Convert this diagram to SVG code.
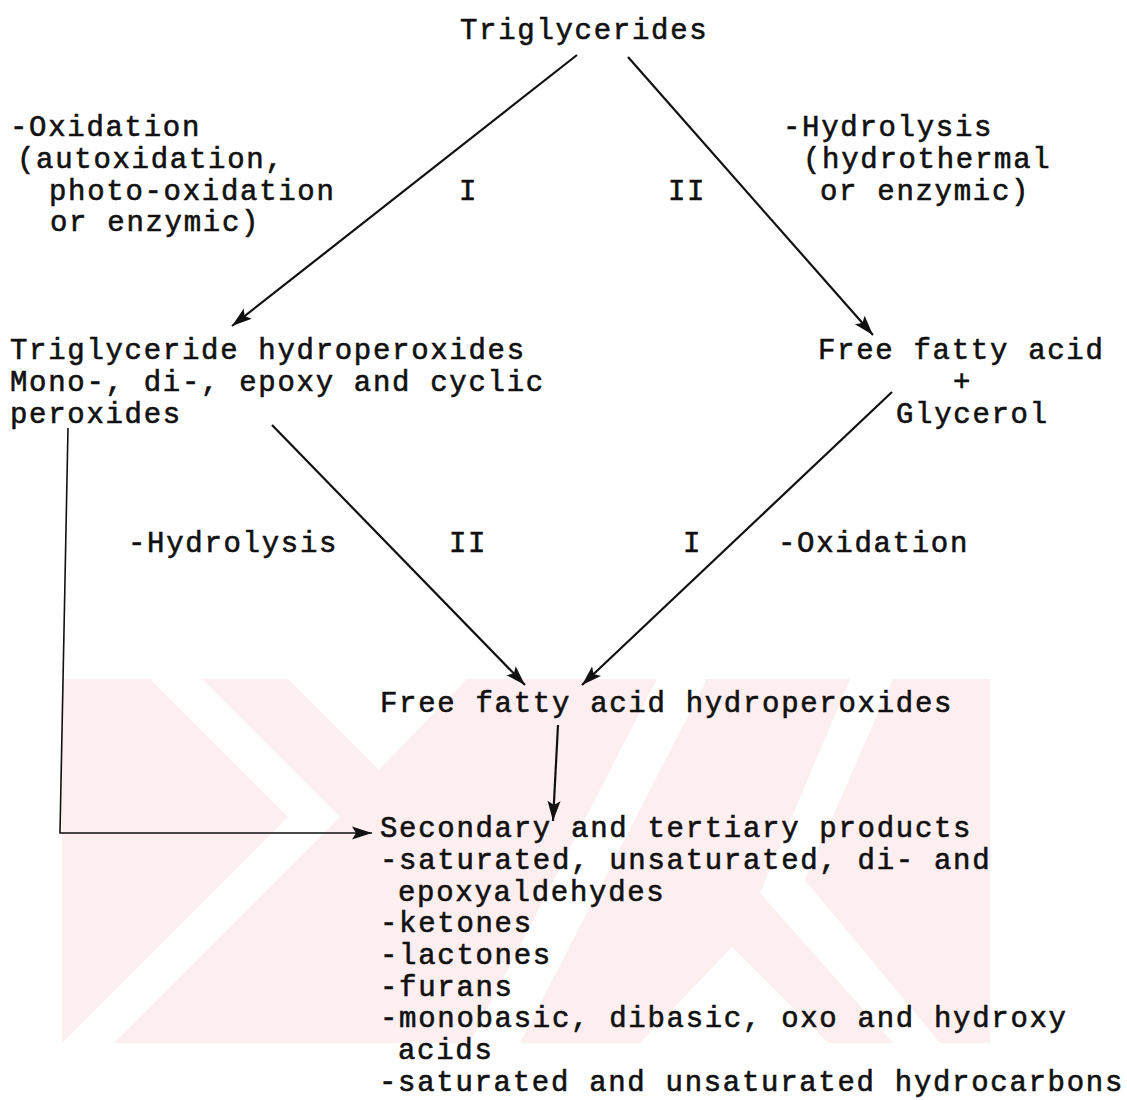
<svg xmlns="http://www.w3.org/2000/svg" width="1127" height="1100" viewBox="0 0 1127 1100">
<style>
  text { font-family: "Liberation Mono", "DejaVu Sans Mono", monospace; font-size: 29px; letter-spacing: 1.7px; fill: #111; stroke: #111; stroke-width: 0.6; white-space: pre; }
  .ln { stroke: #111; stroke-width: 2.2; fill: none; }
  .thin { stroke: #111; stroke-width: 1.6; fill: none; }
  .wm { fill: #fdeef0; }
  .wh { fill: #ffffff; }
</style>
<defs>
  <marker id="ah" markerUnits="userSpaceOnUse" markerWidth="22" markerHeight="16" refX="20" refY="8" orient="auto">
    <path d="M0,1.5 L20,8 L0,14.5 L4,8 Z" fill="#111"/>
  </marker>
</defs>
<rect width="1127" height="1100" fill="#fff"/>
<g id="watermark">
  <polygon class="wm" points="62,679 990,679 990,1043 62,1043"/>
  <polygon class="wh" points="150,679 202,679 340,817 114,1043 62,1043 288,817"/>
  <polygon class="wh" points="288,679 467,679 379,770"/>
  <polygon class="wh" points="657,679 707,679 520,1043 470,1043"/>
  <polygon class="wh" points="850,679 893,679 805,880 940,1043 893,1043 760,893"/>
  <polygon class="wh" points="640,1043 828,1043 732,947"/>
</g>
<g id="connectors">
  <line class="ln" x1="577" y1="55" x2="232" y2="326" marker-end="url(#ah)"/>
  <line class="ln" x1="628" y1="57" x2="873" y2="335" marker-end="url(#ah)"/>
  <line class="ln" x1="272" y1="425" x2="525" y2="685" marker-end="url(#ah)"/>
  <line class="ln" x1="892" y1="392" x2="582" y2="685" marker-end="url(#ah)"/>
  <line class="ln" x1="558" y1="725" x2="553" y2="821" marker-end="url(#ah)"/>
  <polyline class="thin" points="68,428 60,833 372,833" marker-end="url(#ah)"/>
</g>
<g id="n-triglycerides"><text x="460" y="39">Triglycerides</text></g>
<g id="l-oxidation1">
  <text x="10" y="136">-Oxidation</text>
  <text x="17" y="168">(autoxidation,</text>
  <text x="49" y="200">photo-oxidation</text>
  <text x="50" y="231">or enzymic)</text>
</g>
<g id="l-hydrolysis1">
  <text x="783" y="136">-Hydrolysis</text>
  <text x="803" y="168">(hydrothermal</text>
  <text x="820" y="200">or enzymic)</text>
</g>
<g id="l-I-1"><text x="459" y="200">I</text></g>
<g id="l-II-1"><text x="668" y="200">II</text></g>
<g id="n-tg-hydroperoxides">
  <text x="10" y="359">Triglyceride hydroperoxides</text>
  <text x="10" y="391">Mono-, di-, epoxy and cyclic</text>
  <text x="10" y="423">peroxides</text>
</g>
<g id="n-ffa-glycerol">
  <text x="818" y="359">Free fatty acid</text>
  <text x="953" y="391">+</text>
  <text x="896" y="423">Glycerol</text>
</g>
<g id="l-hydrolysis2"><text x="128" y="552">-Hydrolysis</text></g>
<g id="l-II-2"><text x="449" y="552">II</text></g>
<g id="l-I-2"><text x="683" y="552">I</text></g>
<g id="l-oxidation2"><text x="778" y="552">-Oxidation</text></g>
<g id="n-ffa-hydroperoxides"><text x="380" y="712">Free fatty acid hydroperoxides</text></g>
<g id="n-products">
  <text x="380" y="837">Secondary and tertiary products</text>
  <text x="380" y="869">-saturated, unsaturated, di- and</text>
  <text x="398" y="901">epoxyaldehydes</text>
  <text x="380" y="932">-ketones</text>
  <text x="380" y="964">-lactones</text>
  <text x="380" y="996">-furans</text>
  <text x="380" y="1027">-monobasic, dibasic, oxo and hydroxy</text>
  <text x="398" y="1059">acids</text>
  <text x="379" y="1091">-saturated and unsaturated hydrocarbons</text>
</g>
</svg>
